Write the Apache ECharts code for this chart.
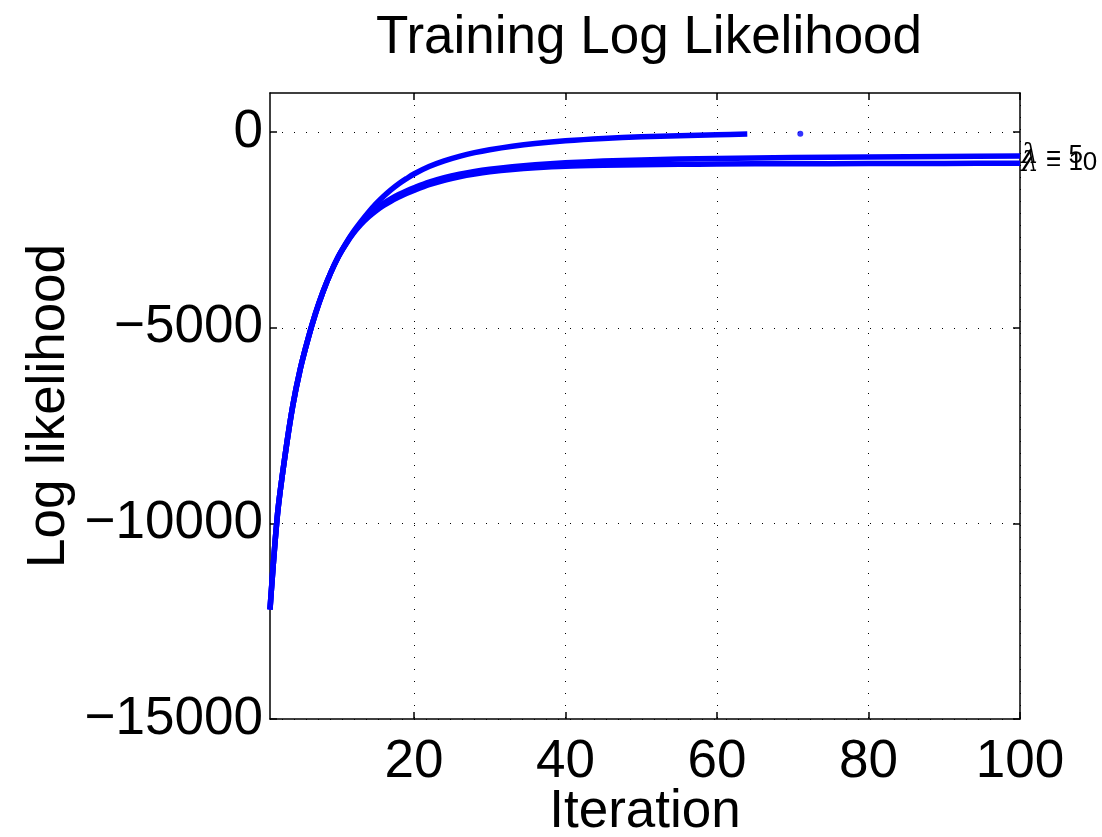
<!DOCTYPE html>
<html>
<head>
<meta charset="utf-8">
<title>Training Log Likelihood</title>
<script src="https://cdn.jsdelivr.net/npm/echarts@6/dist/echarts.min.js"></script>
<style>
  html, body { margin: 0; padding: 0; background: #ffffff; }
  #chart { width: 1102px; height: 837px; }
</style>
</head>
<body>
<div id="chart"></div>
<script>
// Iterations and log-likelihood values of the training runs
const iterBase = [1, 2, 3, 4, 5, 6, 7, 8, 9, 10, 11, 12, 13, 14, 15, 16, 17, 18, 19, 20,
                  22, 24, 26, 28, 30, 33, 36, 40, 45, 50, 55, 60, 64];
const llBase = [-12200, -9750, -8250, -7000, -6050, -5300, -4640, -4080, -3600, -3190,
                -2850, -2550, -2290, -2050, -1830, -1640, -1470, -1320, -1190, -1070,
                -880, -735, -620, -525, -450, -360, -290, -220, -160, -120, -90, -65, -50];

const iterLam = [1, 2, 3, 4, 5, 6, 7, 8, 9, 10, 11, 12, 13, 14, 15, 16, 17, 18, 19, 20,
                 22, 24, 26, 28, 30, 33, 36, 40, 45, 50, 55, 60, 70, 80, 90, 100];
const llLam5 = [-12200, -9750, -8250, -7000, -6050, -5300, -4640, -4080, -3600, -3190,
                -2860, -2570, -2330, -2130, -1960, -1820, -1700, -1595, -1505, -1425,
                -1280, -1165, -1075, -1005, -950, -885, -835, -785, -740, -710, -688, -672,
                -650, -635, -620, -610];
const llLam10 = [-12200, -9750, -8250, -7000, -6050, -5300, -4640, -4080, -3600, -3190,
                 -2870, -2590, -2360, -2170, -2010, -1875, -1760, -1660, -1570, -1490,
                 -1345, -1230, -1140, -1070, -1015, -955, -912, -873, -848, -832, -822, -815,
                 -808, -803, -799, -795];

const dotIter = [71];
const dotLL = [-40];

const xTicks = [20, 40, 60, 80, 100];
const yTicks = [-15000, -10000, -5000, 0];
const lamValues = ['5', '10'];

const FONT = "'Liberation Sans', Arial, Helvetica, sans-serif";
const BLUE = '#0000ff';

function pairs(xs, ys) {
  return xs.map((x, i) => [x, ys[i]]);
}

const chart = echarts.init(document.getElementById('chart'), null, { renderer: 'canvas' });

const boxLine = { show: true, onZero: false, lineStyle: { color: '#000', width: 1.5 } };
const gridDots = { show: true, lineStyle: { color: '#000', width: 1, type: [1, 11] } };
const innerTicks = ticks => ({
  show: true, inside: true, length: 7, customValues: ticks,
  lineStyle: { color: '#000', width: 1.5 }
});

const lineSeries = (name, xs, ys, lamText) => ({
  name: name,
  type: 'line',
  data: pairs(xs, ys),
  symbol: 'none',
  smooth: 0.3,
  lineStyle: { color: BLUE, width: 5.5, cap: 'butt', join: 'round' },
  endLabel: lamText ? {
    show: true,
    formatter: '{l|λ} = ' + lamText,
    distance: 1,
    color: '#000',
    fontFamily: FONT,
    fontSize: 26,
    rich: {
      l: { fontFamily: "'DejaVu Serif', serif", fontStyle: 'italic', fontSize: 28, color: '#000' }
    }
  } : { show: false },
  z: 3
});

chart.setOption({
  backgroundColor: '#ffffff',
  animation: false,
  title: {
    text: 'Training Log Likelihood',
    left: 371,
    top: 7,
    textStyle: { fontFamily: FONT, fontSize: 53, fontWeight: 'normal', color: '#000' }
  },
  grid: { left: 270, right: 82, top: 93, bottom: 118, containLabel: false, outerBoundsMode: 'none' },
  xAxis: [{
    type: 'value',
    min: 1,
    max: 100,
    name: 'Iteration',
    nameLocation: 'middle',
    nameGap: 67,
    nameMoveOverlap: false,
    nameTextStyle: { fontFamily: FONT, fontSize: 53, color: '#000' },
    axisLine: boxLine,
    axisTick: innerTicks(xTicks),
    axisLabel: { customValues: xTicks, fontFamily: FONT, fontSize: 53, color: '#000', margin: 17 },
    splitLine: gridDots
  }, {
    type: 'value',
    position: 'top',
    min: 1,
    max: 100,
    axisLine: boxLine,
    axisTick: innerTicks(xTicks),
    axisLabel: { show: false },
    splitLine: { show: false }
  }],
  yAxis: [{
    type: 'value',
    min: -15000,
    max: 1000,
    name: 'Log likelihood',
    nameLocation: 'middle',
    nameGap: 194,
    nameRotate: 90,
    nameMoveOverlap: false,
    nameTextStyle: { fontFamily: FONT, fontSize: 53, color: '#000' },
    axisLine: boxLine,
    axisTick: innerTicks(yTicks),
    axisLabel: {
      customValues: yTicks,
      fontFamily: FONT, fontSize: 53, color: '#000', margin: 7,
      formatter: v => (v < 0 ? '\u2212' + Math.abs(v) : String(v))
    },
    splitLine: gridDots
  }, {
    type: 'value',
    position: 'right',
    min: -15000,
    max: 1000,
    axisLine: boxLine,
    axisTick: innerTicks(yTicks),
    axisLabel: { show: false },
    splitLine: { show: false }
  }],
  series: [
    lineSeries('base', iterBase, llBase, null),
    lineSeries('lambda5', iterLam, llLam5, lamValues[0]),
    lineSeries('lambda10', iterLam, llLam10, lamValues[1]),
    {
      name: 'point',
      type: 'scatter',
      data: pairs(dotIter, dotLL),
      symbol: 'circle',
      symbolSize: 6,
      itemStyle: { color: BLUE },
      z: 3
    }
  ]
});
</script>
</body>
</html>
